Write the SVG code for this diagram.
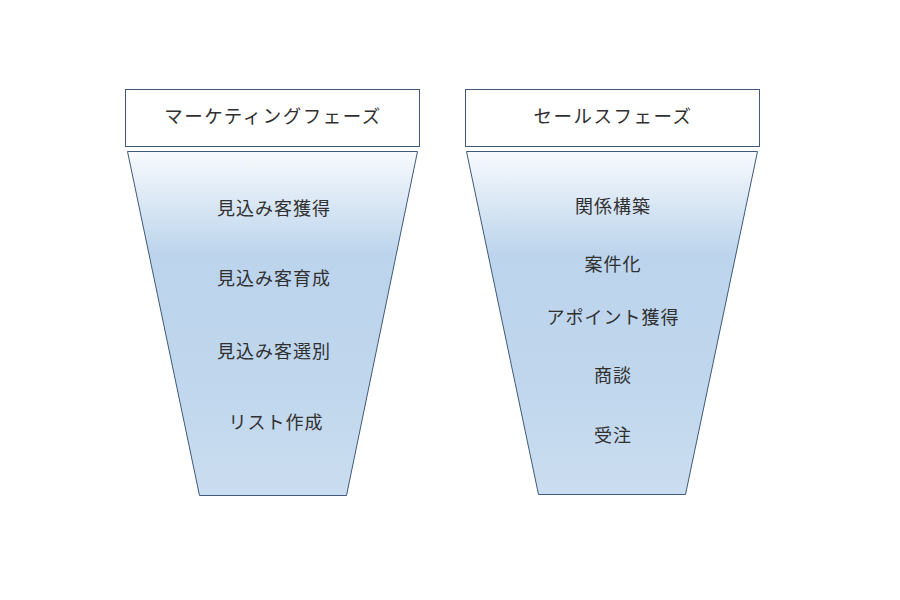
<svg xmlns="http://www.w3.org/2000/svg" width="900" height="600" viewBox="0 0 900 600">
<defs>
<linearGradient id="g" x1="0" y1="0" x2="0" y2="1">
<stop offset="0" stop-color="#f8fafd"/>
<stop offset="0.3" stop-color="#bcd4ec"/>
<stop offset="0.7" stop-color="#c0d7ed"/>
<stop offset="1" stop-color="#cbddf0"/>
</linearGradient>
</defs>
<style>
.box{fill:#fff;stroke:#41597a;stroke-width:1}
.fun{fill:url(#g);stroke:#41597a;stroke-width:1}
text{font-family:"Noto Sans CJK JP","Noto Sans",sans-serif;font-size:18px;letter-spacing:1px;fill:#303030;text-anchor:middle;dominant-baseline:central}
.t{font-size:18.5px;letter-spacing:1.5px}
</style>
<rect width="900" height="600" fill="#fff"/>
<g id="marketing-header"><rect class="box" x="125.5" y="89.5" width="294" height="57"/><text class="t" x="273" y="115">マーケティングフェーズ</text></g>
<g id="sales-header"><rect class="box" x="465.5" y="89.5" width="294" height="57"/><text class="t" x="613" y="115">セールスフェーズ</text></g>
<g id="marketing-funnel"><polygon class="fun" points="127.5,151.5 417.5,151.5 346.5,495.5 199.5,495.5"/>
<text x="274" y="207">見込み客獲得</text>
<text x="274" y="277">見込み客育成</text>
<text x="274" y="350">見込み客選別</text>
<text x="276" y="421">リスト作成</text></g>
<g id="sales-funnel"><polygon class="fun" points="466.5,151.5 757.5,151.5 685.5,494.5 538.5,494.5"/>
<text x="613" y="205">関係構築</text>
<text x="613" y="263">案件化</text>
<text x="613" y="316">アポイント獲得</text>
<text x="613" y="374">商談</text>
<text x="613" y="434">受注</text></g>
<g id="connectors"/>
</svg>
